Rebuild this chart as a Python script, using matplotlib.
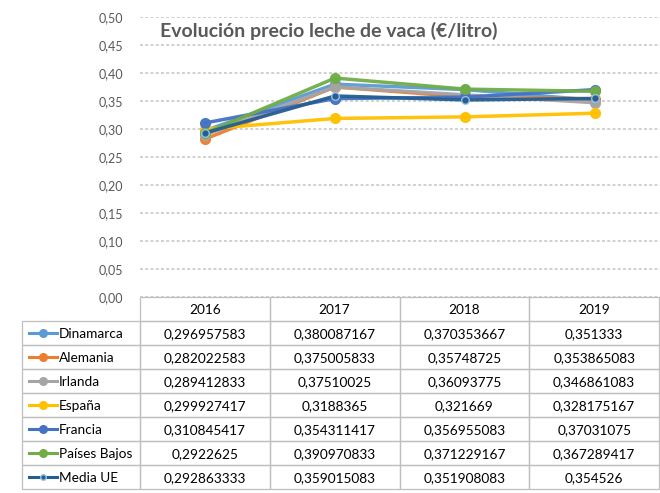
import matplotlib
matplotlib.use("Agg")
import matplotlib.pyplot as plt
from matplotlib.lines import Line2D
from matplotlib.patches import Rectangle

years = ["2016", "2017", "2018", "2019"]
series_names = ["Dinamarca", "Alemania", "Irlanda", "España", "Francia", "Países Bajos", "Media UE"]
dinamarca = [0.296957583, 0.380087167, 0.370353667, 0.351333]
alemania = [0.282022583, 0.375005833, 0.35748725, 0.353865083]
irlanda = [0.289412833, 0.37510025, 0.36093775, 0.346861083]
espana = [0.299927417, 0.3188365, 0.321669, 0.328175167]
francia = [0.310845417, 0.354311417, 0.356955083, 0.37031075]
paises_bajos = [0.2922625, 0.390970833, 0.371229167, 0.367289417]
media_ue = [0.292863333, 0.359015083, 0.351908083, 0.354526]
table_text = [
    ["0,296957583", "0,380087167", "0,370353667", "0,351333"],
    ["0,282022583", "0,375005833", "0,35748725", "0,353865083"],
    ["0,289412833", "0,37510025", "0,36093775", "0,346861083"],
    ["0,299927417", "0,3188365", "0,321669", "0,328175167"],
    ["0,310845417", "0,354311417", "0,356955083", "0,37031075"],
    ["0,2922625", "0,390970833", "0,371229167", "0,367289417"],
    ["0,292863333", "0,359015083", "0,351908083", "0,354526"],
]
y_ticks = [0.0, 0.05, 0.10, 0.15, 0.20, 0.25, 0.30, 0.35, 0.40, 0.45, 0.50]

all_series = [dinamarca, alemania, irlanda, espana, francia, paises_bajos, media_ue]
colors = ["#5B9BD5", "#ED7D31", "#A5A5A5", "#FFC000", "#4472C4", "#70AD47", "#255E91"]

plt.rcParams['font.family'] = ['Lato', 'DejaVu Sans']

W, H = 660, 493
fig = plt.figure(figsize=(W / 100, H / 100), dpi=100)

def fx(px):
    return px / W

def fy(py):
    return 1 - py / H

ax_left, ax_right, ax_top, ax_bot = 140, 660, 17, 297
ax = fig.add_axes([fx(ax_left), fy(ax_bot), fx(ax_right - ax_left), (ax_bot - ax_top) / H])
xs = list(range(len(years)))
order = [0, 1, 2, 3, 5, 4, 6]
for i in order:
    ms = 5.5 if i == 6 else 7
    ax.plot(xs, all_series[i], color=colors[i], lw=2.5, marker='o', ms=ms,
            mec=("#9DC3E6" if i == 6 else colors[i]), mew=1.0, zorder=3 + i * 0.1, alpha=0.95)
ax.set_xlim(-0.5, 3.5)
ax.set_ylim(0, 0.5)
ax.set_yticks(y_ticks)
ax.set_yticklabels([f"{v:.2f}".replace(".", ",") for v in y_ticks], color="#595959", fontsize=9)
ax.set_xticks([])
ax.tick_params(axis='y', length=0, pad=12)
for s in ax.spines.values():
    s.set_visible(False)
ax.grid(axis='y', color="#D0D0D0", lw=1.4, ls=(0, (1.5, 1.2)))
ax.set_axisbelow(True)
ax.text(fx(160), fy(31), "Evolución precio leche de vaca (€/litro)", transform=fig.transFigure,
        fontsize=14, fontweight='bold', color="#595959", ha='left', va='center')

# table
tab_left, tab_right, tab_top = 22, 659, 297
label_w = ax_left - tab_left
col_w = (tab_right - ax_left) / len(years)
row_h = 24
tax = fig.add_axes([0, 0, 1, 1])
tax.set_xlim(0, W)
tax.set_ylim(H, 0)
tax.axis('off')
border = "#BFBFBF"
fs = 9.8
# header
for j, yr in enumerate(years):
    x0 = ax_left + j * col_w
    tax.add_patch(Rectangle((x0, tab_top), col_w, row_h, fill=False, ec=border, lw=0.9))
    tax.text(x0 + col_w / 2, tab_top + row_h / 2 + 1, yr, ha='center', va='center', fontsize=fs, color="#000000")
for i, name in enumerate(series_names):
    y0 = tab_top + row_h * (i + 1)
    tax.add_patch(Rectangle((tab_left, y0), label_w, row_h, fill=False, ec=border, lw=0.9))
    yc = y0 + row_h / 2
    tax.add_line(Line2D([29, 57], [yc, yc], color=colors[i], lw=2.2))
    tax.plot([43], [yc], marker='o', ms=(4 if i == 6 else 5.5), color=colors[i],
             mec=("#9DC3E6" if i == 6 else colors[i]))
    tax.text(59, yc + 1, name, ha='left', va='center', fontsize=fs, color="#000000")
    for j in range(len(years)):
        x0 = ax_left + j * col_w
        tax.add_patch(Rectangle((x0, y0), col_w, row_h, fill=False, ec=border, lw=0.9))
        tax.text(x0 + col_w / 2, yc + 1, table_text[i][j], ha='center', va='center', fontsize=fs, color="#000000")

fig.savefig("out.png", dpi=100)
